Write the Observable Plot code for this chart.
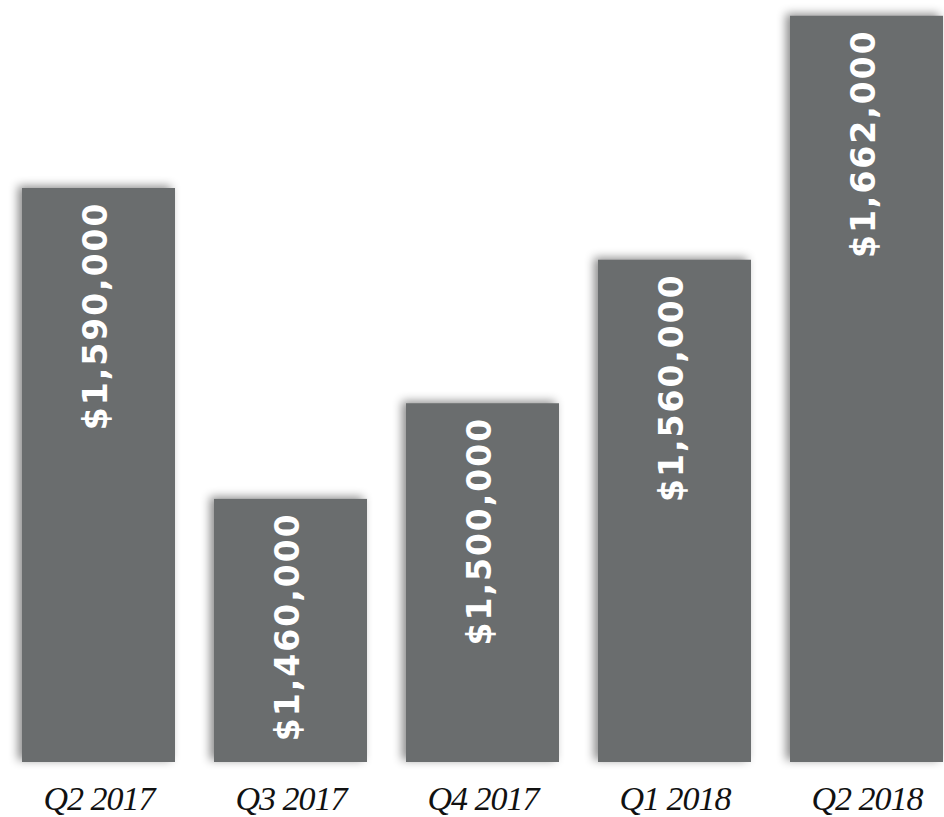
<!DOCTYPE html>
<html>
<head>
<meta charset="utf-8">
<script src="https://cdn.jsdelivr.net/npm/d3@7"></script>
<script src="https://cdn.jsdelivr.net/npm/@observablehq/plot@0.6"></script>
<style>
  html, body { margin: 0; padding: 0; background: #ffffff; }
  #chart { width: 944px; height: 817px; overflow: hidden; }
  svg { overflow: hidden; }
</style>
</head>
<body>
<div id="chart"></div>
<script>
const quarters = ["Q2 2017", "Q3 2017", "Q4 2017", "Q1 2018", "Q2 2018"];
const values = [1590000, 1460000, 1500000, 1560000, 1662000];
const labels = ["$1,590,000", "$1,460,000", "$1,500,000", "$1,560,000", "$1,662,000"];

const data = quarters.map((q, i) => ({quarter: q, value: values[i], label: labels[i]}));

const chart = Plot.plot({
  width: 944,
  height: 817,
  marginTop: 0,
  marginRight: 0,
  marginBottom: 55,
  marginLeft: 0,
  style: {background: "#ffffff"},
  x: {
    domain: quarters,
    range: [1.25, 963.75],
    paddingInner: 0.205,
    paddingOuter: 0.1025,
    label: null
  },
  y: {domain: [1350000, 1668600], clamp: true, axis: null},
  marks: [
    Plot.barY(data, {x: "quarter", y: "value", fill: "#6a6d6e"}),
    Plot.text(data, {
      x: "quarter",
      y: "value",
      text: "label",
      rotate: -90,
      textAnchor: "end",
      dy: 13,
      dx: -3,
      fill: "#ffffff",
      fontSize: 33,
      fontWeight: "bold",
      fontFamily: "DejaVu Sans"
    }),
    Plot.axisX({
      tickSize: 0,
      tickPadding: 23,
      fontSize: 34,
      fontStyle: "italic",
      fontFamily: "Liberation Serif",
      fill: "#111111",
      label: null
    })
  ]
});

document.getElementById("chart").appendChild(chart);
const barGroup = chart.querySelector('g[aria-label="bar"]');
if (barGroup) barGroup.style.filter = "drop-shadow(-4px -2px 5px rgba(0,0,0,0.45))";
const textGroup = chart.querySelector('g[aria-label="text"]');
if (textGroup) textGroup.style.letterSpacing = "2px";
const xAxis = chart.querySelector('g[aria-label="x-axis tick label"]');
if (xAxis) xAxis.style.letterSpacing = "-1px";
</script>
</body>
</html>
